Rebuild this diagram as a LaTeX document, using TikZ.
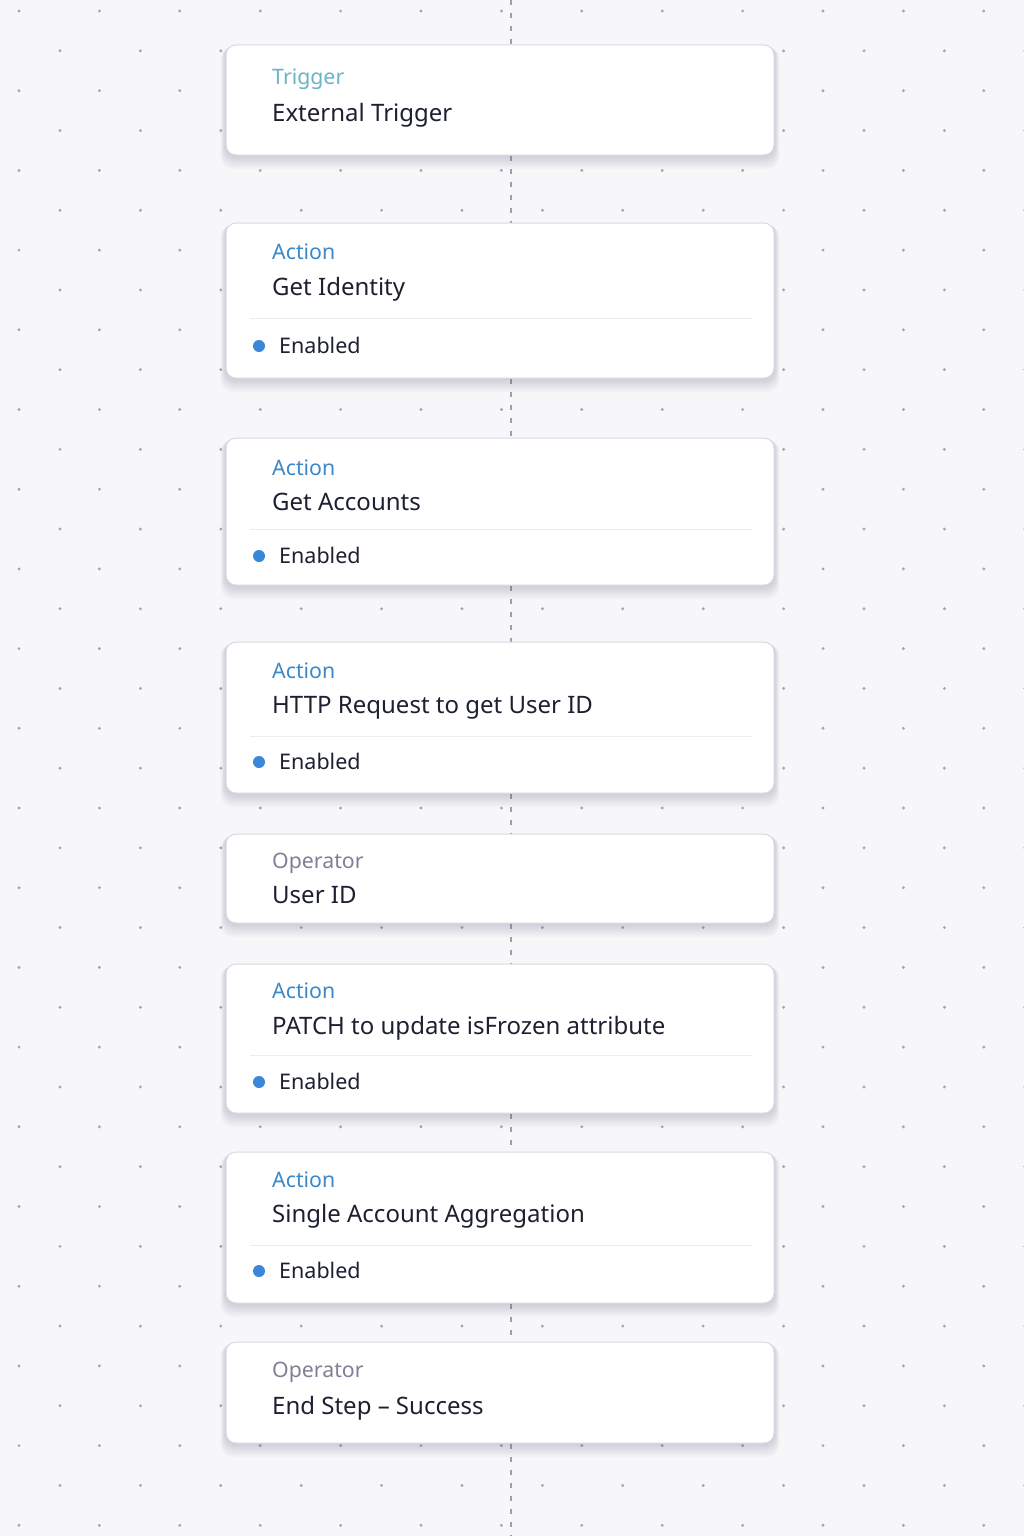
\documentclass[tikz,border=0pt]{standalone}
\usepackage{fontspec}
\setmainfont{Noto Sans}
\definecolor{bgcol}{HTML}{F7F7FA}
\definecolor{gridcol}{HTML}{A4A4B8}
\definecolor{linecol}{HTML}{9E9EB0}
\definecolor{cardborder}{HTML}{DADAE2}
\definecolor{sepcol}{HTML}{ECECF0}
\definecolor{shadowcol}{HTML}{5A5A78}
\definecolor{trigcol}{HTML}{6AB4C8}
\definecolor{actcol}{HTML}{3C88CA}
\definecolor{opcol}{HTML}{827E96}
\definecolor{titlecol}{HTML}{1D2030}
\definecolor{dotcol}{HTML}{3A86D8}
\newcommand\cardshade[1]{%
  \foreach \s in {1,...,8}{%
    \fill[shadowcol, opacity=0.03, rounded corners=12pt]
      ([xshift=-\s*0.6pt, yshift=-\s*1.7pt]#1.south west) rectangle ([xshift=\s*0.6pt, yshift=-\s*0.3pt]#1.north east);}}
\tikzset{
  card/.style={draw=cardborder, line width=1pt, fill=white, rounded corners=10pt, minimum width=548pt, inner sep=0pt},
  conn/.style={draw=linecol, line width=2pt, dash pattern=on 5pt off 8pt},
  lbl/.style={anchor=base west, inner sep=0pt, font=\fontsize{21.3}{24}\selectfont},
  ttl/.style={anchor=base west, inner sep=0pt, text=titlecol, font=\fontsize{24}{28}\selectfont},
  stat/.style={anchor=base west, inner sep=0pt, text=titlecol, font=\fontsize{21.5}{24}\selectfont},
  sepline/.style={draw=sepcol, line width=1pt},
  statdot/.style={circle, fill=dotcol, minimum size=12pt, inner sep=0pt},
  griddot/.style={fill=gridcol}
}
\begin{document}
\begin{tikzpicture}[x=1pt, y=-1pt]
\useasboundingbox (0,0) rectangle (1024,1536);
\fill[bgcol] (0,0) rectangle (1024,1536);
% dot grid
\foreach \k in {0,...,38}{%
  \pgfmathsetmacro\yy{11+39.85*\k}
  \pgfmathsetmacro\xo{mod(\k,2)==0 ? 19 : 60}
  \foreach \j in {0,...,12}{%
    \fill[griddot] (\xo+80.4*\j, \yy) circle (1.6pt);}}
% cards
\coordinate (ttop) at (511,0);
\coordinate (tbot) at (511,1536);
\node[card, minimum height=110pt, draw=none] (c1) at (500,100) {};
\node[card, minimum height=155pt, draw=none] (c2) at (500,300.5) {};
\node[card, minimum height=147pt, draw=none] (c3) at (500,511.5) {};
\node[card, minimum height=151pt, draw=none] (c4) at (500,717.5) {};
\node[card, minimum height=89pt, draw=none] (c5) at (500,878.5) {};
\node[card, minimum height=149pt, draw=none] (c6) at (500,1038.5) {};
\node[card, minimum height=151pt, draw=none] (c7) at (500,1227.5) {};
\node[card, minimum height=101pt, draw=none] (c8) at (500,1392.5) {};
% connectors
\draw[conn] (ttop) -- ([xshift=11pt]c1.north);
\draw[conn] ([xshift=11pt]c1.south) -- ([xshift=11pt]c2.north);
\draw[conn] ([xshift=11pt]c2.south) -- ([xshift=11pt]c3.north);
\draw[conn] ([xshift=11pt]c3.south) -- ([xshift=11pt]c4.north);
\draw[conn] ([xshift=11pt]c4.south) -- ([xshift=11pt]c5.north);
\draw[conn] ([xshift=11pt]c5.south) -- ([xshift=11pt]c6.north);
\draw[conn] ([xshift=11pt]c6.south) -- ([xshift=11pt]c7.north);
\draw[conn] ([xshift=11pt]c7.south) -- ([xshift=11pt]c8.north);
\draw[conn] ([xshift=11pt]c8.south) -- (tbot);
% shadows
\foreach \c in {c1,c2,c3,c4,c5,c6,c7,c8}{\cardshade{\c}}
% card faces
\node[card, minimum height=110pt] at (c1) {};
\node[card, minimum height=155pt] at (c2) {};
\node[card, minimum height=147pt] at (c3) {};
\node[card, minimum height=151pt] at (c4) {};
\node[card, minimum height=89pt] at (c5) {};
\node[card, minimum height=149pt] at (c6) {};
\node[card, minimum height=151pt] at (c7) {};
\node[card, minimum height=101pt] at (c8) {};
% card 1
\node[lbl, text=trigcol] (l1) at (272,85) {Trigger};
\node[ttl] (t1) at (272,122) {External Trigger};
% card 2
\node[lbl, text=actcol] (l2) at (272,259) {Action};
\node[ttl] (t2) at (272,295) {Get Identity};
\draw[sepline] (250,318) -- (752,318);
\node[statdot] (d2) at (259,346) {};
\node[stat] (s2) at (279,353) {Enabled};
% card 3
\node[lbl, text=actcol] (l3) at (272,475) {Action};
\node[ttl] (t3) at (272,510) {Get Accounts};
\draw[sepline] (250,529) -- (752,529);
\node[statdot] (d3) at (259,556) {};
\node[stat] (s3) at (279,563) {Enabled};
% card 4
\node[lbl, text=actcol] (l4) at (272,678) {Action};
\node[ttl] (t4) at (272,713) {HTTP Request to get User ID};
\draw[sepline] (250,736) -- (752,736);
\node[statdot] (d4) at (259,762) {};
\node[stat] (s4) at (279,769) {Enabled};
% card 5
\node[lbl, text=opcol] (l5) at (272,868) {Operator};
\node[ttl] (t5) at (272,903) {User ID};
% card 6
\node[lbl, text=actcol] (l6) at (272,998) {Action};
\node[ttl] (t6) at (272,1034) {PATCH to update isFrozen attribute};
\draw[sepline] (250,1055) -- (752,1055);
\node[statdot] (d6) at (259,1082) {};
\node[stat] (s6) at (279,1089) {Enabled};
% card 7
\node[lbl, text=actcol] (l7) at (272,1187) {Action};
\node[ttl] (t7) at (272,1222) {Single Account Aggregation};
\draw[sepline] (250,1245) -- (752,1245);
\node[statdot] (d7) at (259,1271) {};
\node[stat] (s7) at (279,1278) {Enabled};
% card 8
\node[lbl, text=opcol] (l8) at (272,1377) {Operator};
\node[ttl] (t8) at (272,1414) {End Step -- Success};
\end{tikzpicture}
\end{document}
